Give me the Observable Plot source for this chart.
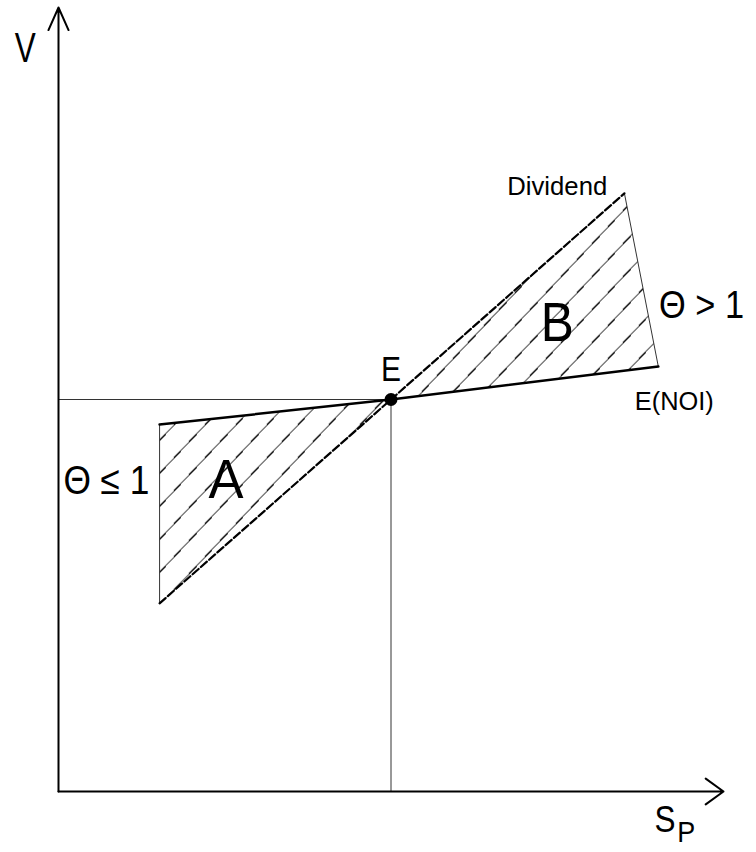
<!DOCTYPE html>
<html>
<head>
<meta charset="utf-8">
<script src="https://cdn.jsdelivr.net/npm/d3@7"></script>
<script src="https://cdn.jsdelivr.net/npm/@observablehq/plot@0.6"></script>
<style>
  html, body { margin: 0; padding: 0; background: #fff; }
  #chart svg { display: block; overflow: visible; }
</style>
</head>
<body>
<div id="chart"></div>
<script>
// ---- data (abstract units: origin 0, E at (5,5), axes run to 10) ----
const pointE = {x: 5, y: 5};
const noiX = [1.52, 5, 9.02];        // E(NOI) line
const noiY = [4.68, 5, 5.42];
const divX = [1.52, 5, 8.51];        // Dividend line (dashed)
const divY = [2.40, 5, 7.63];

const labelText = ["V", "Dividend", "Θ > 1", "B", "E", "E(NOI)", "Θ ≤ 1", "A", "S", "P"];
const labelX    = [-0.50, 7.50, 9.67, 7.50, 5.00, 9.26, 0.72, 2.52, 9.12, 9.44];
const labelY    = [9.31, 7.61, 6.04, 5.74, 5.23, 4.86, 3.79, 3.75, -0.52, -0.65];

// ---- tables built from the arrays ----
const noi = noiX.map((x, i) => ({x, y: noiY[i]}));
const div = divX.map((x, i) => ({x, y: divY[i]}));
const regionA = [noi[0], pointE, div[0], noi[0]];
const regionB = [pointE, div[2], noi[2], pointE];
const edgeA = [noi[0], div[0]];
const edgeB = [div[2], noi[2]];
const guides = [{x1: 0, y1: pointE.y, x2: pointE.x, y2: pointE.y}, {x1: pointE.x, y1: pointE.y, x2: pointE.x, y2: 0}];
const labels = labelText.map((t, i) => ({t, x: labelX[i], y: labelY[i]}));

// style per label: font size and fitted length
const labelStyle = {
  "V": [42, 21], "Dividend": [26, 100], "Θ > 1": [38, 85], "B": [56, 33], "E": [35, 20],
  "E(NOI)": [25, 79], "Θ ≤ 1": [40, 86], "A": [56, 35], "S": [36, 21], "P": [30, 18]
};

const font = "'Liberation Sans', Arial, sans-serif";

const plot = Plot.plot({
  width: 756,
  height: 852,
  marginLeft: 58,
  marginRight: 33,
  marginTop: 7,
  marginBottom: 61,
  x: {domain: [0, 10], axis: null},
  y: {domain: [0, 10], axis: null},
  style: {background: "#fff", fontFamily: font},
  marks: [
    Plot.line(regionA, {x: "x", y: "y", fill: "url(#hatch)", stroke: "none"}),
    Plot.line(regionB, {x: "x", y: "y", fill: "url(#hatch)", stroke: "none"}),
    Plot.link(guides, {x1: "x1", y1: "y1", x2: "x2", y2: "y2", stroke: "#333", strokeWidth: 1}),
    Plot.line(edgeA, {x: "x", y: "y", stroke: "#333", strokeWidth: 1}),
    Plot.line(edgeB, {x: "x", y: "y", stroke: "#333", strokeWidth: 1}),
    Plot.line(noi, {x: "x", y: "y", stroke: "#000", strokeWidth: 2.5}),
    Plot.line(div, {x: "x", y: "y", stroke: "#000", strokeWidth: 2.2, strokeDasharray: "8,3"}),
    Plot.dot([pointE], {x: "x", y: "y", r: 6.5, fill: "#000"}),
    Plot.arrow([{x1: 0, y1: 0, x2: 0, y2: 10}], {x1: "x1", y1: "y1", x2: "x2", y2: "y2", stroke: "#000", strokeWidth: 2, headLength: 18.5, headAngle: 48}),
    Plot.arrow([{x1: 0, y1: 0, x2: 10, y2: 0}], {x1: "x1", y1: "y1", x2: "x2", y2: "y2", stroke: "#000", strokeWidth: 2, headLength: 16.5, headAngle: 72}),
    Plot.text(labels, {x: "x", y: "y", text: "t", lineAnchor: "bottom", textAnchor: "middle", fill: "#000", fontFamily: font, fontSize: d => labelStyle[d.t][0]})
  ]
});

// hatch pattern
d3.select(plot).insert("defs", ":first-child").html(
  '<pattern id="hatch" patternUnits="userSpaceOnUse" x="14.3" y="0" width="31" height="33">' +
  '<path d="M-1,34.06 L32,-1.06" stroke="#000" stroke-width="1" fill="none" shape-rendering="crispEdges"/>' +
  '</pattern>'
);

// fit label widths
d3.select(plot).selectAll("text").each(function () {
  const s = labelStyle[this.textContent];
  if (s) {
    this.setAttribute("textLength", s[1]);
    this.setAttribute("lengthAdjust", "spacingAndGlyphs");
    this.style.fontFamily = font;
  }
});

document.getElementById("chart").appendChild(plot);
</script>
</body>
</html>
